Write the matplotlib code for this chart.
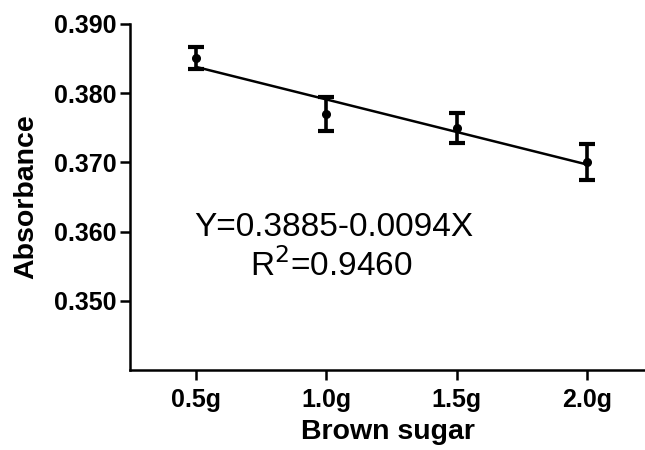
import matplotlib.pyplot as plt

# Brown sugar amount (g) and mean absorbance with error
sugar_g = [0.5, 1.0, 1.5, 2.0]
sugar_labels = ['0.5g', '1.0g', '1.5g', '2.0g']
absorbance = [0.3851, 0.3770, 0.3750, 0.3700]
abs_err = [0.0016, 0.0025, 0.0022, 0.0026]

# Linear fit reported on the chart
intercept = 0.3885
slope = -0.0094
r_squared = 0.9460

y_ticks = [0.350, 0.360, 0.370, 0.380, 0.390]

plt.rcParams['font.family'] = ['Liberation Sans', 'DejaVu Sans']

fig = plt.figure(figsize=(6.45, 4.5), dpi=100)
ax = fig.add_axes([0.2016, 0.1778, 0.7984, 0.7689])

# Fitted line over the data range
fit_y = [intercept + slope * x for x in sugar_g]
ax.plot([sugar_g[0], sugar_g[-1]], [fit_y[0], fit_y[-1]], color='black', linewidth=1.8, zorder=2)

ax.errorbar(sugar_g, absorbance, yerr=abs_err, fmt='o', color='black', markersize=5.5,
            elinewidth=2.6, capsize=5.5, capthick=3.0, zorder=3)

ax.text(1.03, 0.3606, f'Y={intercept:.4f}-{abs(slope):.4f}X', ha='center', va='center', fontsize=24)
ax.text(1.02, 0.3551, f'R$^2$={r_squared:.4f}', ha='center', va='center', fontsize=24)

ax.set_xlim(0.247, 2.223)
ax.set_ylim(0.340, 0.390)
ax.set_xticks(sugar_g)
ax.set_xticklabels(sugar_labels)
ax.set_yticks(y_ticks)
ax.set_yticklabels([f'{v:.3f}' for v in y_ticks])

for lab in ax.get_xticklabels() + ax.get_yticklabels():
    lab.set_fontweight('bold')
    lab.set_fontsize(18)

ax.set_xlabel('Brown sugar', fontsize=20.5, fontweight='bold', labelpad=5)
ax.set_ylabel('Absorbance', fontsize=20.5, fontweight='bold', labelpad=10)

ax.spines['top'].set_visible(False)
ax.spines['right'].set_visible(False)
ax.spines['left'].set_linewidth(1.8)
ax.spines['bottom'].set_linewidth(1.8)
ax.tick_params(axis='y', length=7, width=1.8, pad=3)
ax.tick_params(axis='x', length=7, width=1.8, pad=6)

fig.savefig('out.png', dpi=100)
